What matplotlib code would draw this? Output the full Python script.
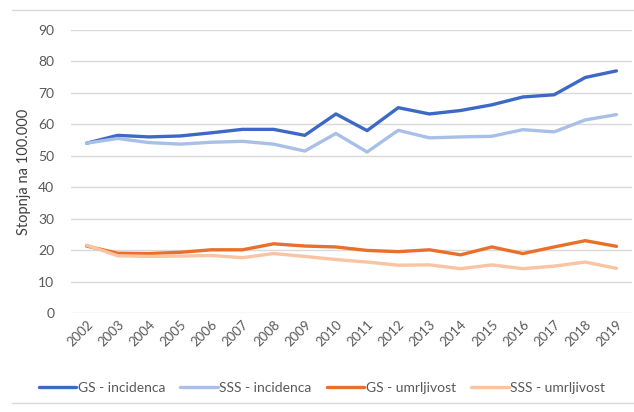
import matplotlib
matplotlib.use("Agg")
import matplotlib.pyplot as plt
from matplotlib.lines import Line2D

years = list(range(2002, 2020))
gs_incidence = [54.0, 56.5, 56.0, 56.3, 57.3, 58.4, 58.4, 56.5, 63.3, 58.0, 65.3, 63.3, 64.4, 66.2, 68.7, 69.4, 74.9, 77.0]
sss_incidence = [54.0, 55.5, 54.2, 53.7, 54.3, 54.6, 53.7, 51.5, 57.1, 51.2, 58.1, 55.7, 56.0, 56.2, 58.3, 57.6, 61.4, 63.1]
gs_mortality = [21.3, 19.0, 18.9, 19.3, 20.1, 20.1, 22.0, 21.3, 21.0, 19.9, 19.5, 20.1, 18.5, 21.0, 18.9, 21.0, 23.0, 21.2]
sss_mortality = [21.6, 18.2, 18.0, 18.1, 18.3, 17.6, 18.9, 18.0, 17.0, 16.2, 15.2, 15.3, 14.1, 15.3, 14.1, 14.9, 16.2, 14.2]
labels = ["GS - incidenca", "SSS - incidenca", "GS - umrljivost", "SSS - umrljivost"]

plt.rcParams["font.family"] = ["Lato", "DejaVu Sans"]

fig = plt.figure(figsize=(6.34, 4.12), dpi=100, facecolor="white")
ax = fig.add_axes([71 / 634, 99 / 412, 561 / 634, 283 / 412])

colors = ["#3d69c6", "#a8c0e8", "#e9702a", "#f8c4a2"]
series = [gs_incidence, sss_incidence, gs_mortality, sss_mortality]
for vals, c, lab in zip(series, colors, labels):
    ax.plot(years, vals, color=c, lw=2.4, label=lab, solid_capstyle="round", zorder=3)

ax.set_ylim(0, 90)
ax.set_yticks(range(0, 91, 10))
ax.set_xlim(2001.5, 2019.5)
ax.set_xticks(years)
ax.set_xticklabels([str(y) for y in years], rotation=45, ha="right", rotation_mode="anchor")
ax.grid(axis="y", color="#d9d9d9", lw=1.0)
ax.set_axisbelow(True)
for s in ax.spines.values():
    s.set_visible(False)
ax.tick_params(length=0, colors="#595959", labelsize=10)
ax.tick_params(axis="x", labelsize=9.5, pad=4)
ax.tick_params(axis="y", pad=12)
ax.set_ylabel("Stopnja na 100.000", fontsize=10.5, color="#404040", labelpad=5)

fig.legend(loc="center", bbox_to_anchor=(322 / 634, 24 / 412), ncol=4, frameon=False,
           fontsize=10, handlelength=2.7, handletextpad=0.1, columnspacing=1.1, labelcolor="#595959")

fig.add_artist(Line2D([12 / 634, 1], [1 - 10 / 412, 1 - 10 / 412], color="#d9d9d9", lw=1))
fig.add_artist(Line2D([12 / 634, 1], [9 / 412, 9 / 412], color="#d9d9d9", lw=1))

fig.savefig("out.png", dpi=100, facecolor="white")
